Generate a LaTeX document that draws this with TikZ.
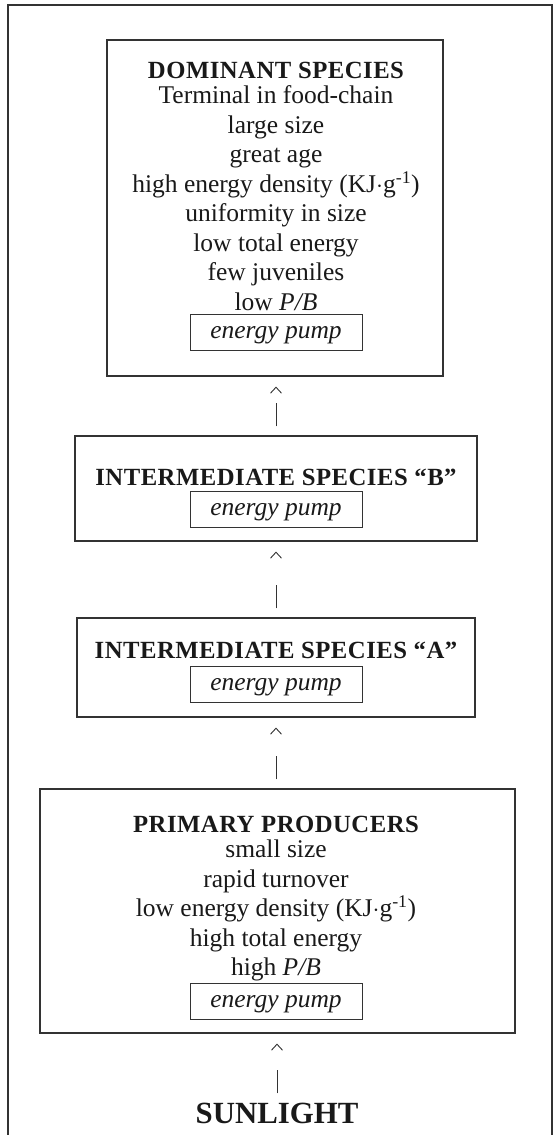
\documentclass[tikz,border=0pt]{standalone}
\usepackage{fontspec}
\setmainfont{Liberation Serif}
\usetikzlibrary{arrows.meta}
\newcommand\heading[1]{{\fontsize{24.7}{29.5}\bfseries\addfontfeature{LetterSpace=2}#1}}
\newcommand\kjg{(KJ$\cdot$g\textsuperscript{-1})}
\begin{document}
\begin{tikzpicture}[x=1pt,y=1pt,
    outer/.style={draw=black!80,line width=1.3pt},
    frame/.style={draw=black!80,line width=1.1pt,inner sep=0pt},
    txt/.style={align=center,inner sep=0pt,text=black!90,font=\fontsize{25.5}{29.5}\selectfont},
    pump/.style={draw=black!80,line width=0.9pt,minimum width=172pt,inner xsep=0pt,inner ysep=6pt,
        text height=18pt,text depth=6pt,text=black!90,font=\fontsize{25.5}{29.5}\itshape},
    link/.style={draw=black!80,line width=0.9pt,shorten <=9pt,shorten >=10pt,
        dash pattern=on 23pt off 300pt,-{Straight Barb[length=6pt,width=11pt]}}]
    \useasboundingbox (0,0) rectangle (555,-1135);
    \draw[outer] (8,-1135) |- (552,-5) -- (552,-1135);

    \node[frame,minimum width=336pt,minimum height=336pt] (dom) at (275,-208) {};
    \node[txt,anchor=north] (domtxt) at (276,-62) {\heading{DOMINANT SPECIES}\\[-4.5pt]
        Terminal in food-chain\\ large size\\ great age\\ high energy density \kjg\\
        uniformity in size\\ low total energy\\ few juveniles\\ low \textit{P/B}};
    \node[pump,anchor=base] (dompump) at (276,-338) {energy pump};

    \node[frame,minimum width=402pt,minimum height=105pt] (b) at (276,-488.5) {};
    \node[txt,anchor=north] (btxt) at (276,-469) {\heading{INTERMEDIATE SPECIES “B”}};
    \node[pump,anchor=base] (bpump) at (276,-515) {energy pump};

    \node[frame,minimum width=398pt,minimum height=99pt] (a) at (276,-667.5) {};
    \node[txt,anchor=north] (atxt) at (276,-642) {\heading{INTERMEDIATE SPECIES “A”}};
    \node[pump,anchor=base] (apump) at (276,-690) {energy pump};

    \node[frame,minimum width=475pt,minimum height=244pt] (pp) at (277.5,-911) {};
    \node[txt,anchor=north] (pptxt) at (276,-816) {\heading{PRIMARY PRODUCERS}\\[-4.5pt]
        small size\\ rapid turnover\\ low energy density \kjg\\ high total energy\\ high \textit{P/B}};
    \node[pump,anchor=base] (pppump) at (276,-1007) {energy pump};

    \node[txt,anchor=base,font=\fontsize{30.8}{36}\bfseries\selectfont] (sun) at (277,-1123) {SUNLIGHT};

    \draw[link] (b.north) -- (b.north |- dom.south);
    \draw[link] (a.north) -- (a.north |- b.south);
    \draw[link] (pp.north -| a.north) -- (a.south);
    \draw[link] (sun.north) -- (sun.north |- pp.south);
\end{tikzpicture}
\end{document}
